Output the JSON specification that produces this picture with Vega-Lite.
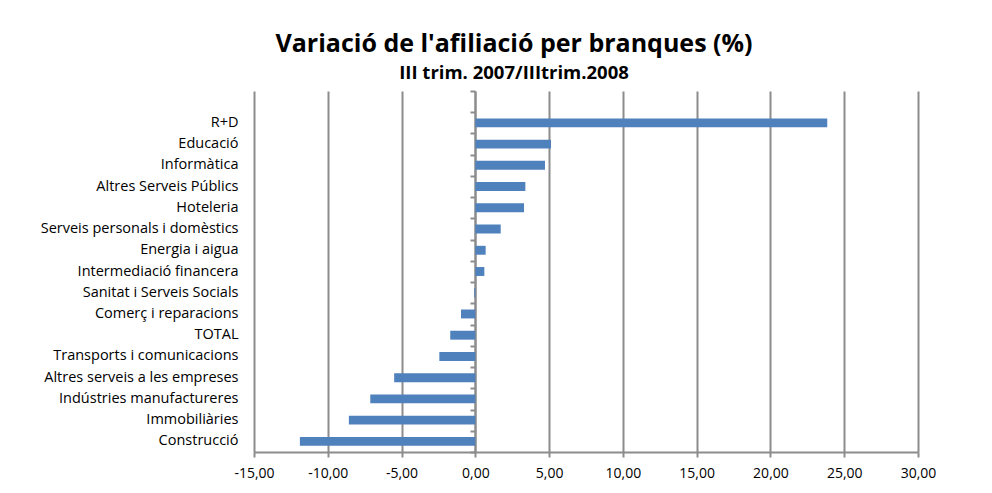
{
  "$schema": "https://vega.github.io/schema/vega-lite/v6.json",
  "width": 664,
  "height": 361,
  "autosize": "none",
  "padding": {"left": 254, "top": 91, "right": 74, "bottom": 41},
  "background": "white",
  "title": {
    "text": "Variació de l'afiliació per branques (%)",
    "subtitle": "III trim. 2007/IIItrim.2008",
    "anchor": "middle",
    "frame": "group",
    "dx": -72,
    "offset": 8,
    "font": "Open Sans",
    "fontSize": 25,
    "fontWeight": "bold",
    "color": "black",
    "subtitleFont": "Open Sans",
    "subtitleFontSize": 18.5,
    "subtitleFontWeight": "bold",
    "subtitleColor": "black",
    "subtitlePadding": 7
  },
  "data": {
    "values": [
      {"branca": "R+D", "valor": 23.85},
      {"branca": "Educació", "valor": 5.13},
      {"branca": "Informàtica", "valor": 4.72},
      {"branca": "Altres Serveis Públics", "valor": 3.39},
      {"branca": "Hoteleria", "valor": 3.30},
      {"branca": "Serveis personals i domèstics", "valor": 1.72},
      {"branca": "Energia i aigua", "valor": 0.70},
      {"branca": "Intermediació financera", "valor": 0.61},
      {"branca": "Sanitat i Serveis Socials", "valor": -0.07},
      {"branca": "Comerç i reparacions", "valor": -0.97},
      {"branca": "TOTAL", "valor": -1.70},
      {"branca": "Transports i comunicacions", "valor": -2.44},
      {"branca": "Altres serveis a les empreses", "valor": -5.50},
      {"branca": "Indústries manufactureres", "valor": -7.12},
      {"branca": "Immobiliàries", "valor": -8.57},
      {"branca": "Construcció", "valor": -11.89}
    ]
  },
  "layer": [
    {
      "mark": {"type": "bar", "color": "#4F81BD", "height": {"band": 0.42}},
      "encoding": {
        "y": {
          "field": "branca",
          "type": "nominal",
          "sort": null,
          "scale": {
            "domain": [" ", "R+D", "Educació", "Informàtica", "Altres Serveis Públics", "Hoteleria", "Serveis personals i domèstics", "Energia i aigua", "Intermediació financera", "Sanitat i Serveis Socials", "Comerç i reparacions", "TOTAL", "Transports i comunicacions", "Altres serveis a les empreses", "Indústries manufactureres", "Immobiliàries", "Construcció"],
            "paddingInner": 0,
            "paddingOuter": 0
          },
          "axis": {
            "title": null,
            "ticks": false,
            "domain": false,
            "grid": false,
            "labelPadding": 16,
            "labelLimit": 0,
            "labelFont": "Open Sans",
            "labelFontSize": 14.5,
            "labelColor": "black"
          }
        },
        "x": {
          "field": "valor",
          "type": "quantitative",
          "scale": {"domain": [-15, 30], "nice": false, "zero": false},
          "axis": {
            "title": null,
            "values": [-15, -10, -5, 0, 5, 10, 15, 20, 25, 30],
            "labelExpr": "(datum.value < 0 ? '-' : '') + replace(format(abs(datum.value), '.2f'), '.', ',')",
            "grid": true,
            "gridColor": "#8c8c8c",
            "gridWidth": 2,
            "domainColor": "#8c8c8c",
            "domainWidth": 2,
            "tickColor": "#8c8c8c",
            "tickWidth": 2,
            "tickSize": 5,
            "labelPadding": 9,
            "labelFont": "Open Sans",
            "labelFontSize": 14,
            "labelColor": "black",
            "labelFlush": false
          }
        }
      }
    },
    {
      "mark": {"type": "bar", "opacity": 0, "height": {"band": 0.42}},
      "encoding": {
        "y": {
          "field": "branca",
          "type": "nominal",
          "sort": null,
          "axis": {
            "orient": "left",
            "title": null,
            "labels": false,
            "grid": false,
            "ticks": true,
            "tickBand": "extent",
            "tickSize": 5,
            "tickWidth": 2,
            "tickColor": "#8c8c8c",
            "domain": true,
            "domainColor": "#8c8c8c",
            "domainWidth": 2,
            "offset": -221
          }
        },
        "x": {"field": "valor", "type": "quantitative"}
      }
    }
  ],
  "resolve": {"axis": {"y": "independent"}},
  "config": {"view": {"stroke": null}}
}
